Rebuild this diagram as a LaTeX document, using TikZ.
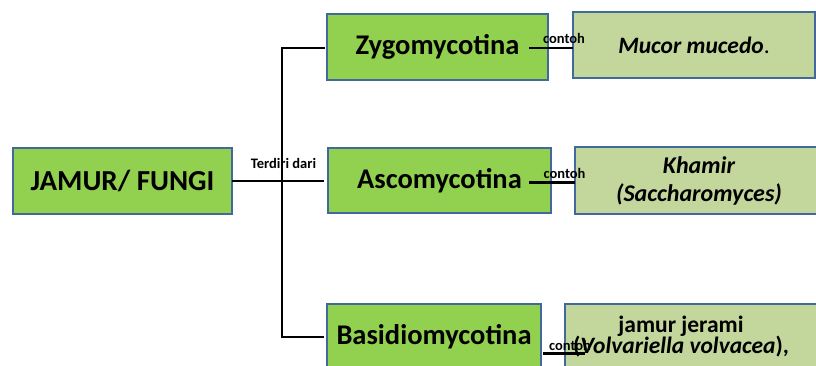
\documentclass[tikz,border=0pt]{standalone}
\usepackage{fontspec}
\setmainfont{Carlito}
\definecolor{fungreen}{HTML}{92D050}
\definecolor{palegreen}{HTML}{C3D69B}
\definecolor{boxblue}{HTML}{41699C}
\begin{document}
\begin{tikzpicture}[x=1pt,y=-1pt,
  box/.style={draw=boxblue, line width=1.8pt, inner sep=0pt, outer sep=0pt},
  mainbox/.style={box, fill=fungreen, font=\fontsize{28.5}{32}\selectfont\bfseries},
  examplebox/.style={box, fill=palegreen, align=center,
    font=\fontsize{24}{28}\selectfont\bfseries\itshape},
  conn/.style={draw=black, line width=2.6pt},
  lbl/.style={inner sep=0pt, font=\fontsize{14.5}{15}\selectfont\bfseries}]
\useasboundingbox (0,0) rectangle (816,365);
\clip (0,0) rectangle (816,365);

% main boxes
\node[mainbox, minimum width=219pt, minimum height=66pt,
      font=\fontsize{29}{32}\selectfont\bfseries] (fungi) at (122.5,181) {JAMUR/ FUNGI};
\node[mainbox, minimum width=221pt, minimum height=66pt] (zygo) at (437.5,47) {Zygomycotina};
\node[mainbox, minimum width=223pt, minimum height=65pt] (asco) at (439.5,180.5) {Ascomycotina};
\node[mainbox, minimum width=214pt, minimum height=66pt] (basid) at (434,337) {Basidiomycotina};

% example boxes
\node[examplebox, minimum width=242pt, minimum height=66pt,
      font=\fontsize{23.5}{28}\selectfont\bfseries\itshape] (mucor) at (694,45)
  {Mucor mucedo\textup{\mdseries.}};
\node[examplebox, minimum width=248pt, minimum height=67pt] (khamir) at (699,180.5)
  {Khamir\\(Saccharomyces)};
\node[box, fill=palegreen, minimum width=265pt, minimum height=66pt] (jerami) at (697.5,337) {};
\node[inner sep=0pt, align=center, anchor=base,
      font=\fontsize{23.5}{21.5}\selectfont\bfseries] (jeramitext) at (681,353.5)
  {jamur jerami\\(\textit{Volvariella volvacea}),};

% tree connectors
\coordinate (fungiend) at (324,181);
\coordinate (trunkbottom) at (282,337);
\draw[conn] (fungi.east) -- (fungiend);
\draw[conn] ([xshift=-2pt,yshift=-1pt]zygo.west) -| (trunkbottom) -- ([xshift=-3pt]basid.west);
\node[lbl, anchor=base] (terdiri) at (283.5,168) {Terdiri dari};

% "contoh" links
\coordinate (z1) at (529,48);
\coordinate (a1) at (529,182.5);
\coordinate (b1) at (543,353.3);
\coordinate (b2) at (585,353.3);
\draw[conn] (z1) -- (mucor.west |- z1);
\draw[conn] (a1) -- (khamir.west |- a1);
\draw[conn] (b1) -- (b2);
\node[lbl, anchor=base] (contoh1) at (564,43.5) {contoh};
\node[lbl, anchor=base] (contoh2) at (564.5,178.3) {contoh};
\node[lbl, anchor=base] (contoh3) at (570,350) {contoh};
\end{tikzpicture}
\end{document}
